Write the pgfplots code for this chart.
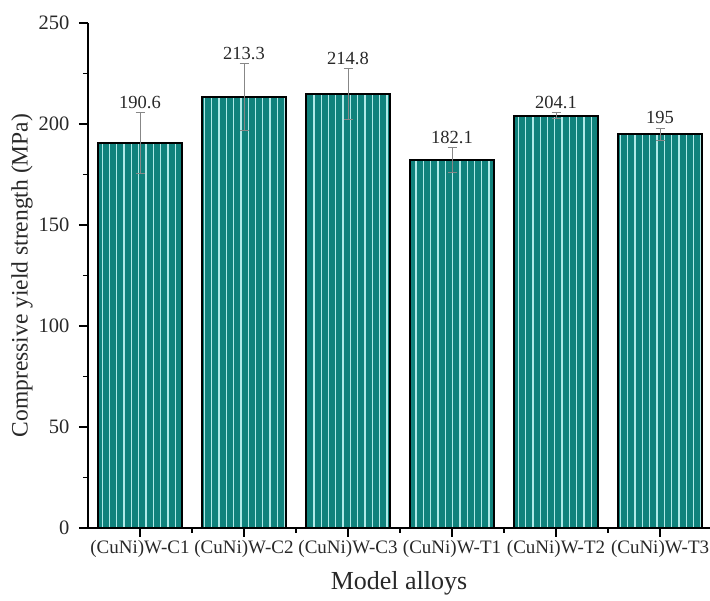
\documentclass[border=0pt]{standalone}
\usepackage{pgfplots}
\pgfplotsset{compat=1.18}
\usepackage{pgfplotstable}
\usepackage{fontspec}
\setmainfont{Liberation Serif}
\usetikzlibrary{patterns.meta}
\definecolor{barteal}{RGB}{16,130,124}
\definecolor{stripe}{RGB}{175,234,232}
\definecolor{errgray}{RGB}{135,135,135}
\definecolor{lblgray}{RGB}{40,40,40}

\pgfplotstableread{
x y e top lbl
0 190.6 14.9 205.5 190.6
1 213.3 16.5 229.8 213.3
2 214.8 12.7 227.5 214.8
3 182.1 6.3 188.4 182.1
4 204.1 1.5 205.6 204.1
5 195 3.0 198.0 195
}\datatable

\begin{document}
\begin{tikzpicture}[x=1pt,y=1pt]
\begin{axis}[
  at={(0,0)}, anchor=south west,
  scale only axis, width=622pt, height=505pt,
  xmin=-0.5, xmax=5.48, ymin=0, ymax=250,
  axis lines=left,
  axis line style={-, line width=1.4pt, black},
  xtick={0,1,2,3,4,5},
  xticklabels={(CuNi)W-C1,(CuNi)W-C2,(CuNi)W-C3,(CuNi)W-T1,(CuNi)W-T2,(CuNi)W-T3},
  minor xtick={0.5,1.5,2.5,3.5,4.5},
  ytick={0,50,100,150,200,250},
  minor ytick={25,75,125,175,225},
  tick align=outside,
  major tick length=9pt, minor tick length=5pt,
  every tick/.style={black, line width=1.2pt},
  /pgf/number format/assume math mode=true,
  yticklabel style={font=\fontsize{20.5}{20.5}\selectfont, text=lblgray, xshift=-6pt},
  xticklabel style={font=\fontsize{19}{19}\selectfont, text=lblgray},
  xlabel={Model alloys},
  ylabel={Compressive yield strength (MPa)},
  xlabel style={font=\fontsize{26}{26}\selectfont, text=lblgray, at={(axis description cs:0.5,-0.109)}, anchor=center},
  ylabel style={font=\fontsize{23.5}{23.5}\selectfont, text=lblgray, at={(axis description cs:-0.106,0.5)}, anchor=center},
  clip=false,
]
\addplot[ybar, bar width=0.81, draw=black, line width=1.6pt,
  preaction={fill=barteal},
  pattern={Lines[angle=90,distance=7.3pt,line width=1.3pt]}, pattern color=stripe]
  table[x=x,y=y] {\datatable};
\addplot[draw=none, mark=none, forget plot,
  error bars/.cd, y dir=both, y explicit,
  error bar style={errgray, line width=0.9pt},
  error mark options={rotate=90, errgray, mark size=4.5pt, line width=0.9pt}]
  table[x=x,y=y,y error=e] {\datatable};
\addplot[draw=none, mark=none, forget plot,
  nodes near coords, point meta=explicit symbolic,
  every node near coord/.style={anchor=south, inner sep=0pt, yshift=3.7pt,
    font=\fontsize{18.5}{18.5}\selectfont, text=lblgray}]
  table[x=x,y=top,meta=lbl] {\datatable};
\end{axis}
\pgfresetboundingbox
\path[use as bounding box] (-88,-73) rectangle (622,528);
\end{tikzpicture}
\end{document}
